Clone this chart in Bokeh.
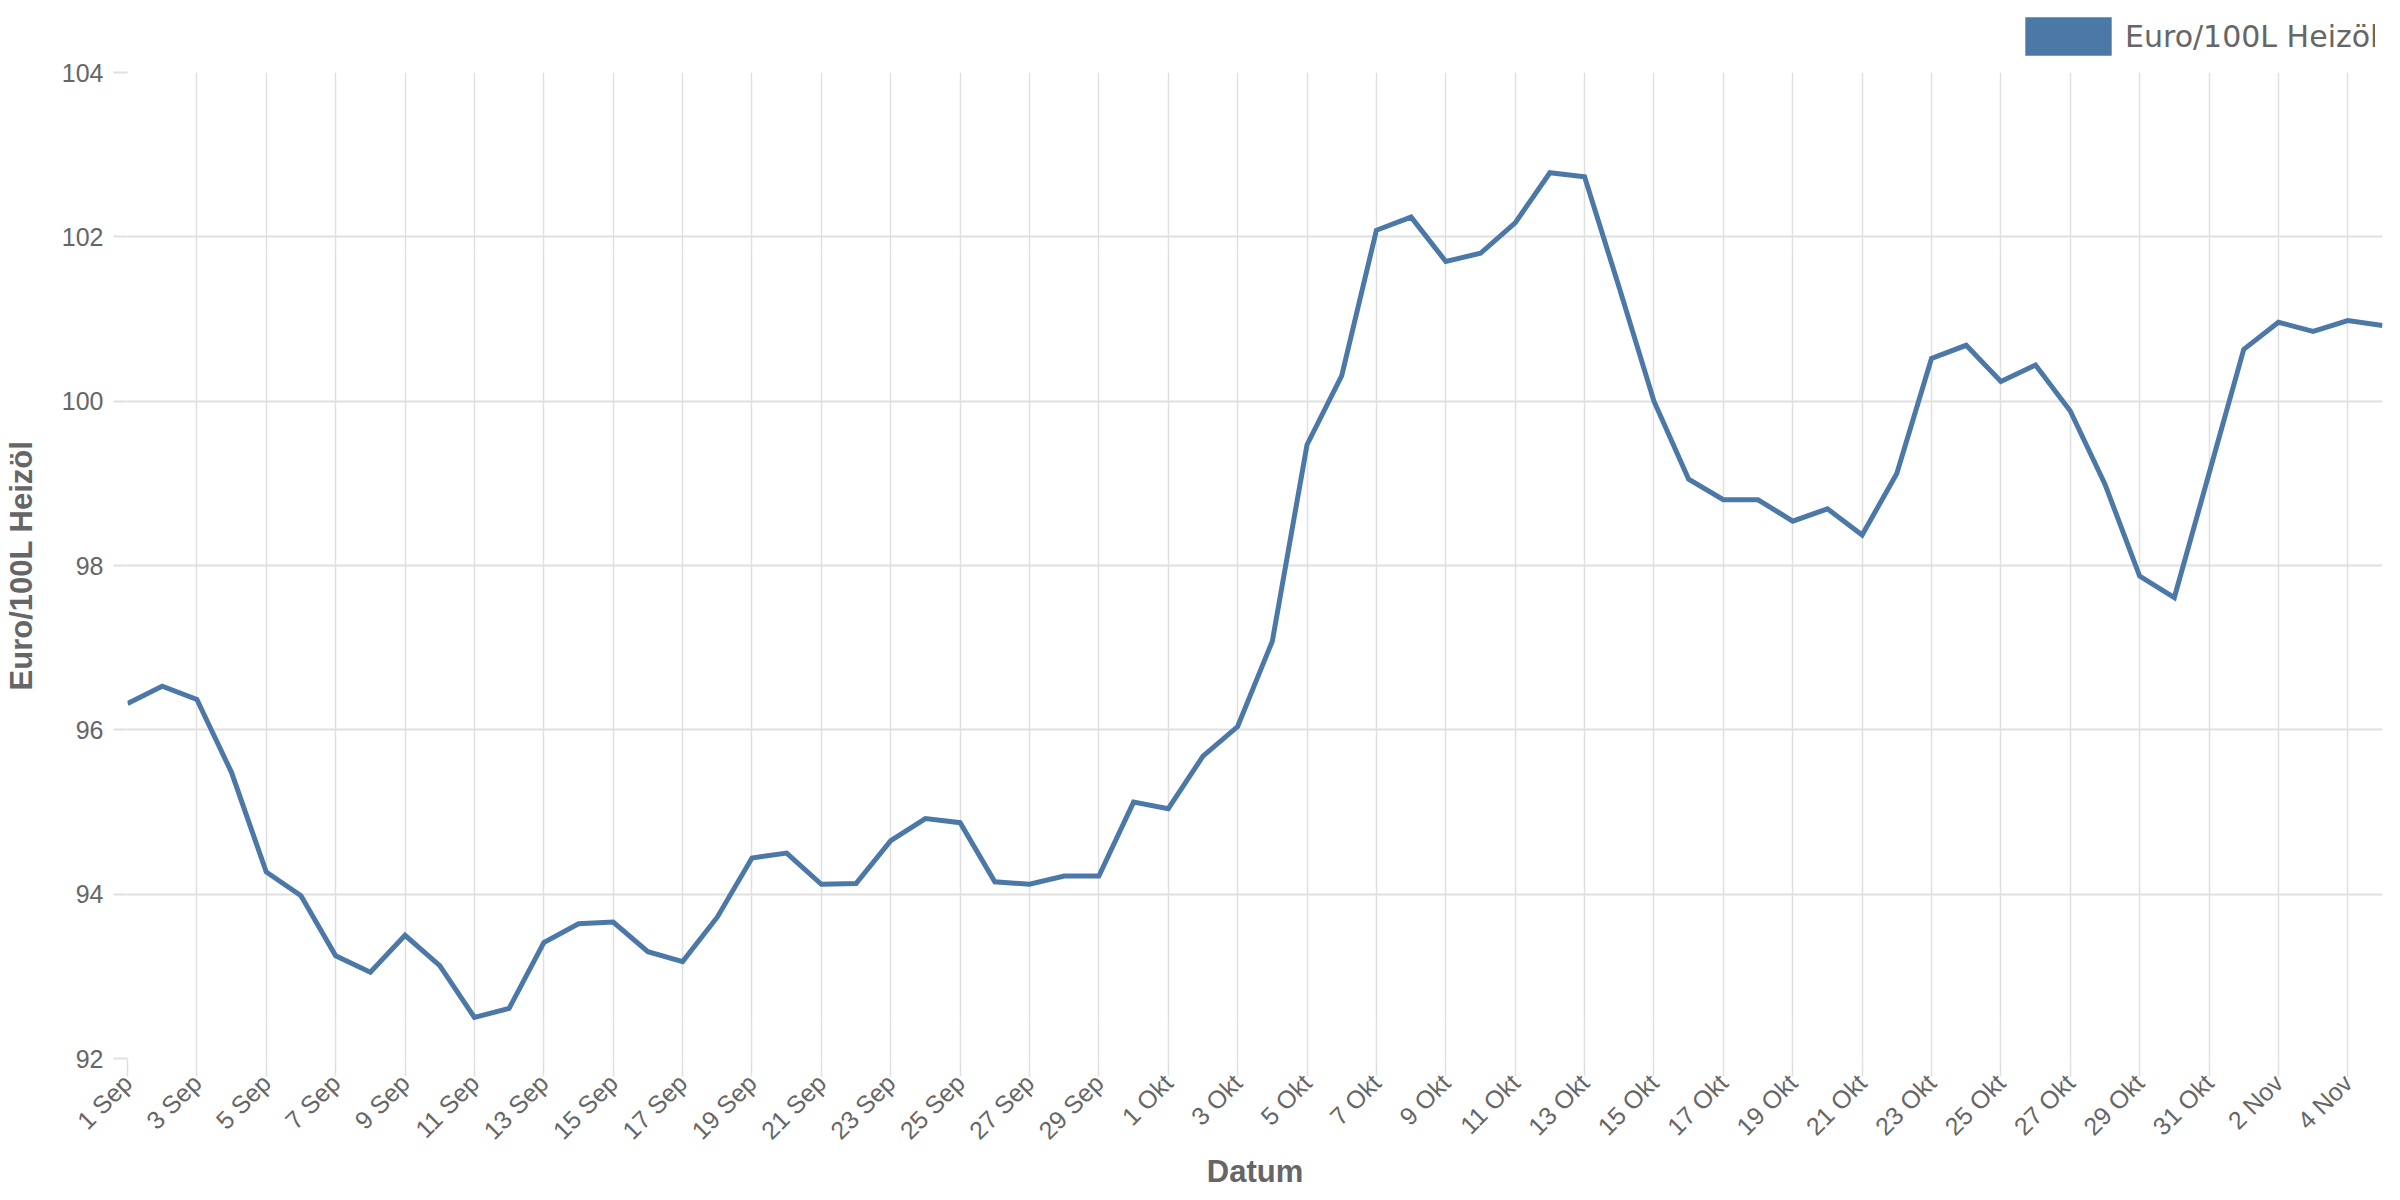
import math
from bokeh.plotting import figure
from bokeh.layouts import column
from bokeh.models import Range1d, FixedTicker, Legend, LegendItem, ColumnDataSource
from bokeh.embed import file_html
from bokeh.resources import INLINE

# ---- data ----
dates = ([f"{d} Sep" for d in range(1, 31)]
         + [f"{d} Okt" for d in range(1, 32)]
         + [f"{d} Nov" for d in range(1, 6)])

prices = [
    96.32, 96.53, 96.37, 95.48, 94.27, 93.98, 93.25, 93.05, 93.50, 93.13,  # 1-10 Sep
    92.50, 92.61, 93.41, 93.64, 93.66, 93.30, 93.18, 93.72, 94.44, 94.50,  # 11-20 Sep
    94.12, 94.13, 94.65, 94.92, 94.87, 94.15, 94.12, 94.22, 94.22, 95.12,  # 21-30 Sep
    95.04, 95.68, 96.04, 97.08, 99.47, 100.31, 102.08, 102.24, 101.70, 101.80,  # 1-10 Okt
    102.17, 102.78, 102.73, 101.38, 100.00, 99.05, 98.80, 98.80, 98.54, 98.69,  # 11-20 Okt
    98.37, 99.12, 100.52, 100.68, 100.24, 100.44, 99.88, 98.99, 97.87, 97.61,  # 21-30 Okt
    99.12, 100.63, 100.96, 100.85, 100.98, 100.92,  # 31 Okt - 5 Nov
]

y_ticks = [92, 94, 96, 98, 100, 102, 104]
series_name = "Euro/100L Heizöl"

x = list(range(len(dates)))
x_ticks = x[::2]

TEXT = "#666666"
GRID = "#e0e0e0"
BLUE = "#4c78a8"

# ---- legend strip (own small figure, so the key can sit above the plot) ----
lg = figure(width=2384, height=56, output_backend="svg", toolbar_location=None,
            x_range=Range1d(0, 1), y_range=Range1d(0, 1),
            x_axis_type=None, y_axis_type=None,
            min_border_left=0, min_border_right=0, min_border_top=0, min_border_bottom=0)
lg.outline_line_color = None
lg.grid.visible = False
nan = float("nan")
sw_src = ColumnDataSource(dict(left=[nan], right=[nan], top=[nan], bottom=[nan]))
sw = lg.quad(left="left", right="right", top="top", bottom="bottom", source=sw_src,
             fill_color=BLUE, line_color=None)
legend = Legend(items=[LegendItem(label=series_name, renderers=[sw])],
                orientation="horizontal", location=(1887, -4),
                glyph_width=108, glyph_height=48, label_standoff=3,
                label_text_font="DejaVu Sans", label_text_font_size="30px",
                label_text_color=TEXT, padding=0, margin=0,
                border_line_color=None, background_fill_alpha=0)
lg.add_layout(legend)

# ---- main chart ----
p = figure(frame_width=2255, frame_height=986, output_backend="svg", toolbar_location=None,
           x_range=Range1d(0, len(dates) - 1), y_range=Range1d(92, 104),
           min_border_left=120, min_border_right=9, min_border_top=16,
           min_border_bottom=0)
p.outline_line_color = None
p.background_fill_color = "white"

line_r = p.line(x, prices, line_color=BLUE, line_width=5, line_join="miter")

# x axis
xa = p.xaxis[0]
xa.ticker = FixedTicker(ticks=x_ticks)
xa.major_label_overrides = {i: dates[i] for i in x_ticks}
xa.major_label_orientation = math.pi / 4
xa.major_label_text_font = "Liberation Sans"
xa.major_label_text_font_size = "25px"
xa.major_label_text_color = TEXT
xa.major_label_standoff = 2
xa.major_tick_out = 18
xa.major_tick_in = 0
xa.major_tick_line_color = GRID
xa.major_tick_line_width = 1.5
xa.minor_tick_line_color = None
xa.axis_line_color = None
xa.axis_label = "Datum"
xa.axis_label_text_font = "Liberation Sans"
xa.axis_label_text_font_style = "bold"
xa.axis_label_text_font_size = "31px"
xa.axis_label_text_color = TEXT
xa.axis_label_standoff = -3

# y axis
ya = p.yaxis[0]
ya.ticker = FixedTicker(ticks=y_ticks)
ya.major_label_text_font = "Liberation Sans"
ya.major_label_text_font_size = "25px"
ya.major_label_text_color = TEXT
ya.major_label_standoff = 10
ya.major_tick_out = 14
ya.major_tick_in = 0
ya.major_tick_line_color = GRID
ya.major_tick_line_width = 2
ya.minor_tick_line_color = None
ya.axis_line_color = None
ya.axis_label = series_name
ya.axis_label_text_font = "Liberation Sans"
ya.axis_label_text_font_style = "bold"
ya.axis_label_text_font_size = "31px"
ya.axis_label_text_color = TEXT
ya.axis_label_standoff = 20

p.xgrid[0].grid_line_color = GRID
p.xgrid[0].grid_line_width = 1.5
p.ygrid[0].grid_line_color = GRID
p.ygrid[0].grid_line_width = 2

layout = column(lg, p, spacing=0)
open("out.html", "w").write(file_html(layout, INLINE))
